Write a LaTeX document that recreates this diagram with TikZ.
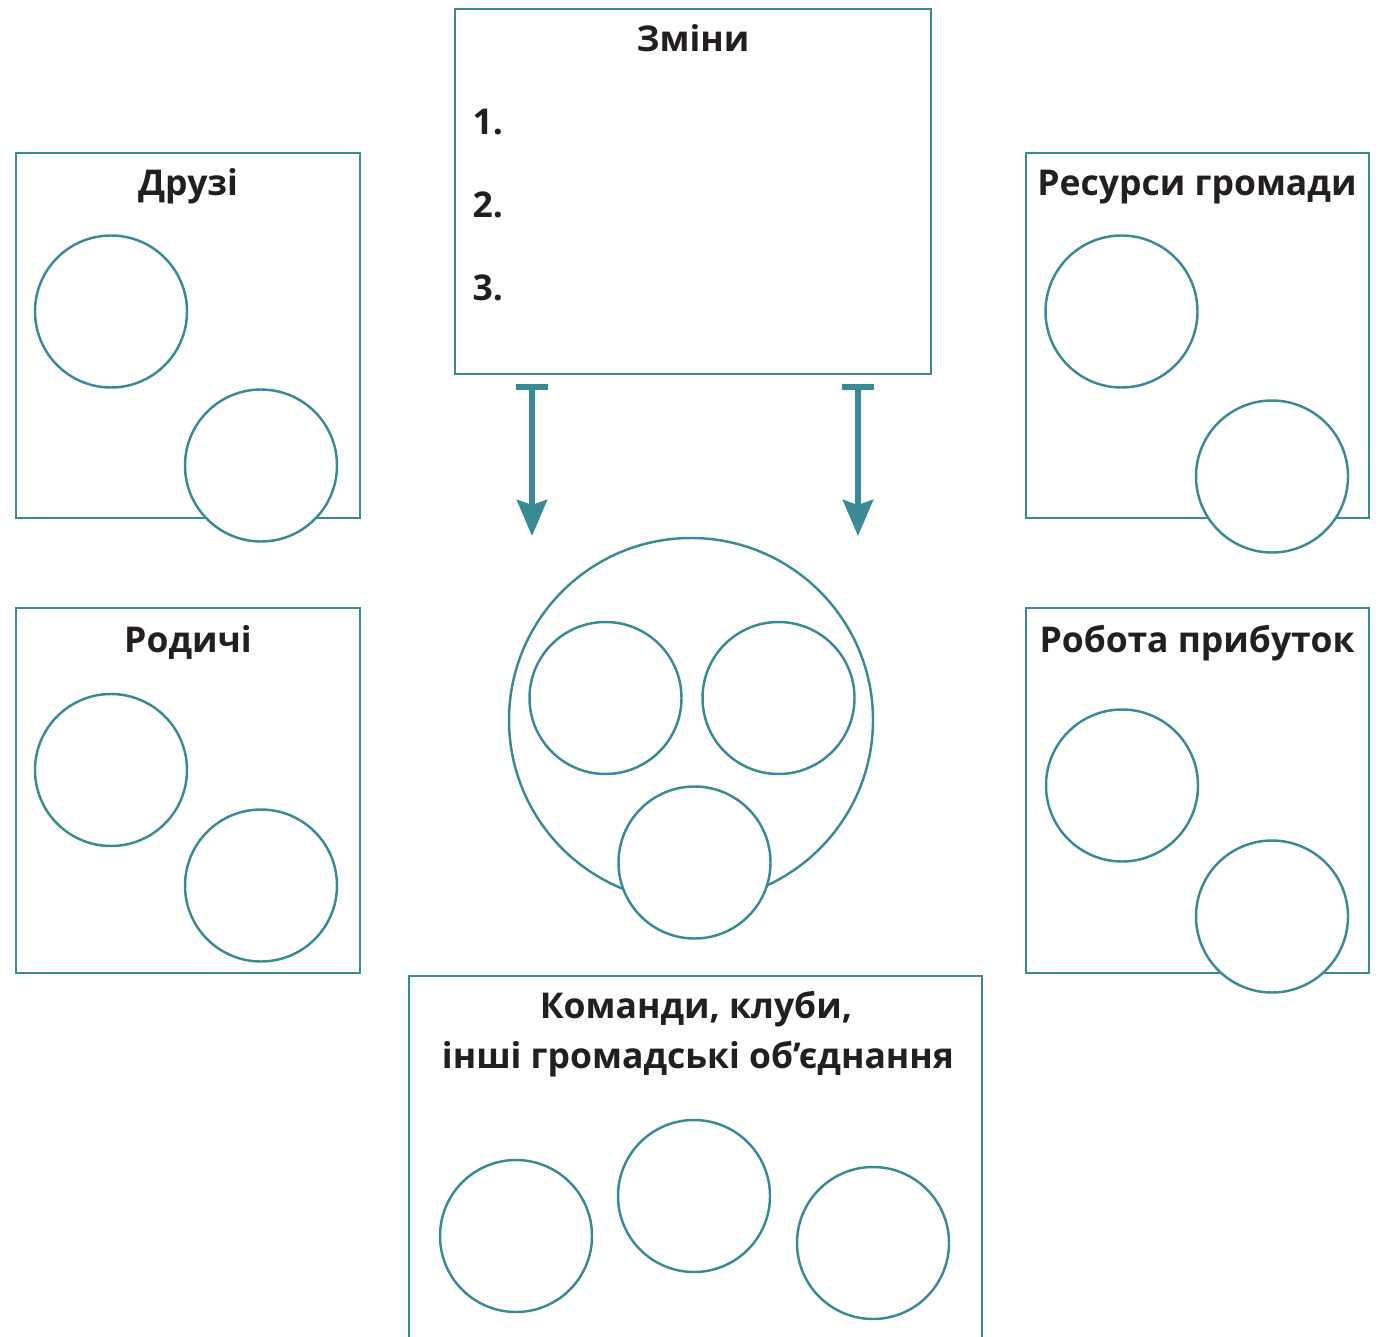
\documentclass[tikz,border=0pt]{standalone}
\usepackage{fontspec}
\setmainfont{Open Sans}
\usetikzlibrary{arrows.meta}
\definecolor{frame}{HTML}{3A8A96}
\definecolor{ink}{HTML}{231F20}

\begin{document}
\begin{tikzpicture}
\tikzstyle{panel}=[draw=frame,line width=0.6pt,inner sep=0pt,minimum width=3.44cm,minimum height=3.65cm]
\tikzstyle{ring}=[draw=frame,fill=white,circle,line width=0.7pt,inner sep=0pt,minimum size=1.52cm]
\tikzstyle{title}=[text=ink,font=\fontsize{10.1}{13}\selectfont\bfseries,inner sep=0pt,anchor=base]
\tikzstyle{flow}=[draw=frame,line width=1.8pt,{Bar[width=0.32cm]}-{Stealth[length=0.36cm,width=0.3cm,inset=0.05cm]}]
\useasboundingbox (0,0) rectangle (13.83,-13.37);

% big circle in the middle
\path (6.91,-7.20) node[ring,minimum size=3.64cm](me){};

% boxes
\path (6.93,-1.915) node[panel,minimum width=4.76cm](zminy){};
\path (1.88,-3.355) node[panel](druzi){} (1.88,-7.905) node[panel](rodychi){};
\path (11.975,-3.355) node[panel,minimum width=3.43cm](resursy){} (11.975,-7.905) node[panel,minimum width=3.43cm](robota){};
\draw[draw=frame,line width=0.6pt] (4.09,-13.40) -- (4.09,-9.76) -- (9.82,-9.76) -- (9.82,-13.40);

% titles
\path (6.93,-0.52) node[title](zminy-t){Зміни};
\path (4.72,-1.35) node[title,anchor=base west](p1){1.} (4.72,-2.18) node[title,anchor=base west](p2){2.} (4.72,-3.01) node[title,anchor=base west](p3){3.};
\path (1.88,-1.96) node[title](druzi-t){Друзі} (1.88,-6.52) node[title](rodychi-t){Родичі};
\path (11.97,-1.96) node[title](resursy-t){Ресурси громади} (11.97,-6.52) node[title](robota-t){Робота прибуток};
\path (6.96,-10.18) node[title](komandy-t){Команди, клуби,} (6.98,-10.68) node[title](inshi-t){інші громадські об’єднання};

% small circles
\path (1.11,-3.115) node[ring](d1){} (2.61,-4.655) node[ring](d2){};
\path (1.11,-7.70) node[ring](r1){} (2.61,-8.855) node[ring](r2){};
\path (11.215,-3.115) node[ring](s1){} (12.72,-4.765) node[ring](s2){};
\path (11.22,-7.855) node[ring](w1){} (12.72,-9.165) node[ring](w2){};
\path (6.055,-6.98) node[ring](m1){} (7.785,-6.98) node[ring](m2){} (6.945,-8.625) node[ring](m3){};
\path (5.16,-12.36) node[ring](k1){} (6.94,-11.96) node[ring](k2){} (8.73,-12.43) node[ring](k3){};

% arrows
\coordinate (a1) at (5.32,-3.84); \coordinate (b1) at (5.32,-5.36);
\coordinate (a2) at (8.58,-3.84); \coordinate (b2) at (8.58,-5.36);
\draw[flow] (a1) -- (b1);
\draw[flow] (a2) -- (b2);
\end{tikzpicture}
\end{document}
